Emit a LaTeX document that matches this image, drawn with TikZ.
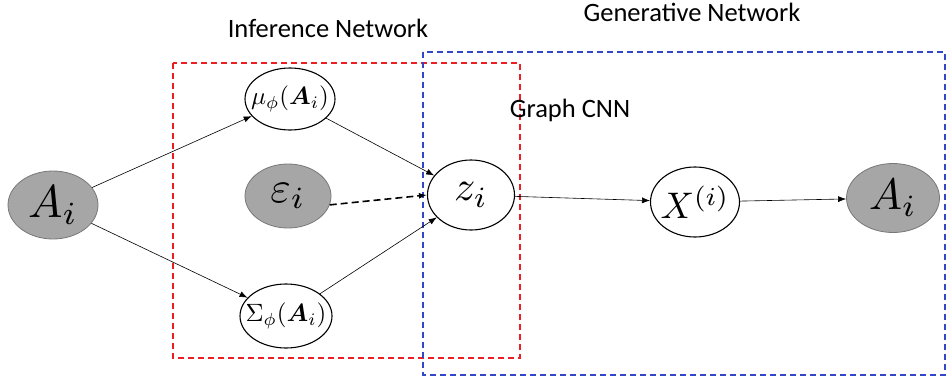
\documentclass[tikz,border=0pt]{standalone}
\usepackage{amsmath,bm,graphicx}
\usepackage{fontspec}
\setmainfont{Carlito}
\usetikzlibrary{shapes.geometric,arrows.meta}
\definecolor{nodegray}{RGB}{166,166,166}
\definecolor{edgegray}{RGB}{120,120,120}
\definecolor{boxred}{RGB}{235,30,35}
\definecolor{boxblue}{RGB}{50,70,200}
\newcommand{\bigmath}[2]{\scalebox{#1}{$#2$}}
\tikzset{
  ell/.style={ellipse, draw=black, line width=1.1pt, inner sep=0pt},
  obs/.style={ellipse, draw=edgegray, fill=nodegray, line width=0.8pt, inner sep=0pt},
  conn/.style={line width=0.6pt, -{Latex[length=8pt,width=6pt]}},
  title/.style={font=\fontsize{26.5}{26.5}\selectfont, inner sep=0pt}
}
\begin{document}
\begin{tikzpicture}[x=1pt,y=-1pt]
\useasboundingbox (0,0) rectangle (951,381);
% boxes
\draw[boxred, dashed, line width=1.2pt, dash pattern=on 6pt off 4pt] (173,63) rectangle (520,358);
\draw[boxblue, dashed, line width=1.2pt, dash pattern=on 6pt off 4pt] (423,52) rectangle (945,375);
% nodes
\node[obs, minimum width=90pt, minimum height=68pt,
  label={center:\bigmath{4.6}{A_i}}] (ain) at (53,205) {};
\node[ell, minimum width=90pt, minimum height=62pt,
  label={center:\bigmath{2.5}{\mu_\phi(\bm{A}_i)}}] (mu) at (290,99) {};
\node[obs, minimum width=86pt, minimum height=64pt,
  label={center:\bigmath{4.4}{\varepsilon_i}}] (eps) at (288,196) {};
\node[ell, minimum width=92pt, minimum height=64pt,
  label={center:\bigmath{2.5}{\Sigma_\phi(\bm{A}_i)}}] (sig) at (286,316) {};
\node[ell, minimum width=87pt, minimum height=70pt,
  label={center:\bigmath{4.2}{z_i}}] (z) at (471,195) {};
\node[ell, minimum width=89pt, minimum height=70pt,
  label={center:\bigmath{3.7}{X^{(i)}}}] (x) at (695,202) {};
\node[obs, minimum width=93pt, minimum height=69pt,
  label={center:\bigmath{4.4}{A_i}}] (aout) at (893,198) {};
% titles
\node[title] (tinf) at (328,28) {Inference Network};
\node[title] (tgen) at (692,12) {Generative Network};
\node[title] (tcnn) at (570,110) {Graph CNN};
% connectors
\draw[conn] (ain) -- (mu);
\draw[conn] (ain) -- (sig);
\draw[conn] (mu) -- (z);
\draw[conn] (sig) -- (z);
\draw[conn, line width=1.6pt, dash pattern=on 7pt off 4pt] (eps.-12) -- (z.west);
\draw[conn] (z) -- (x);
\draw[conn] (x) -- (aout);
\end{tikzpicture}
\end{document}
